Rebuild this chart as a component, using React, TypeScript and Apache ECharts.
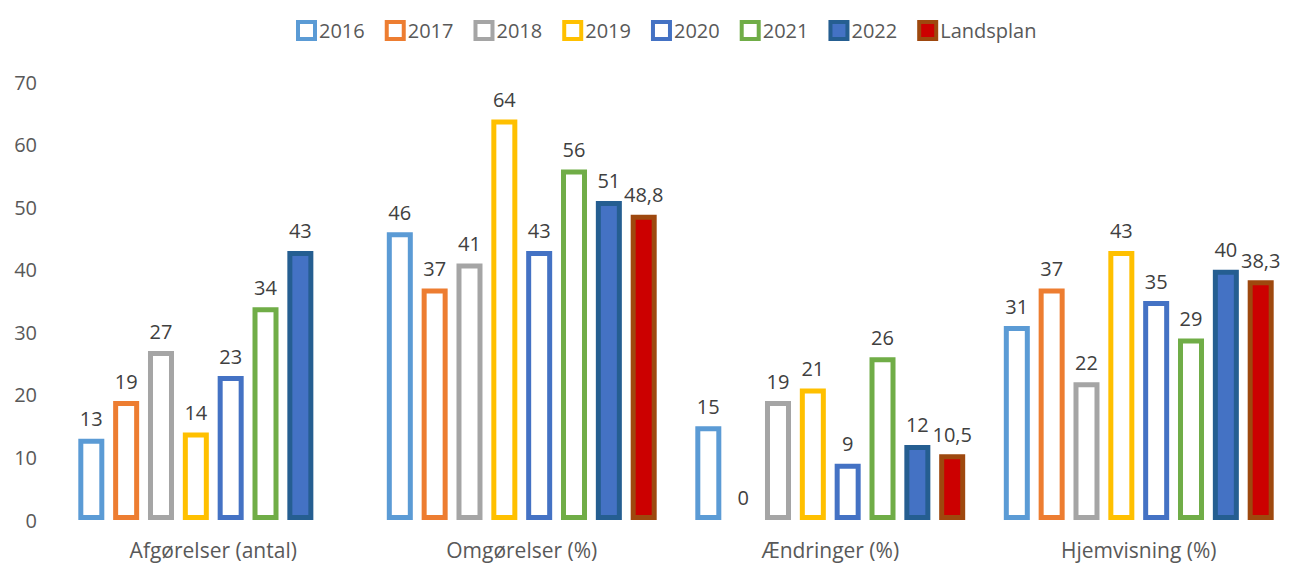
import React, { useEffect, useRef } from "react";
import * as echarts from "echarts";

const categories = ["Afgørelser (antal)", "Omgørelser (%)", "Ændringer (%)", "Hjemvisning (%)"];
const seriesNames = ["2016", "2017", "2018", "2019", "2020", "2021", "2022", "Landsplan"];
const v2016 = [13, 46, 15, 31];
const v2017 = [19, 37, 0, 37];
const v2018 = [27, 41, 19, 22];
const v2019 = [14, 64, 21, 43];
const v2020 = [23, 43, 9, 35];
const v2021 = [34, 56, 26, 29];
const v2022 = [43, 51, 12, 40];
const vLandsplan = [null, 48.8, 10.5, 38.3];
const yTicks = [0, 10, 20, 30, 40, 50, 60, 70];

const allValues = [v2016, v2017, v2018, v2019, v2020, v2021, v2022, vLandsplan];
const borderColors = ["#5B9BD5", "#ED7D31", "#A5A5A5", "#FFC000", "#4472C4", "#70AD47", "#255E91", "#9E480E"];
const fillColors = ["#FFFFFF", "#FFFFFF", "#FFFFFF", "#FFFFFF", "#FFFFFF", "#FFFFFF", "#4472C4", "#CC0000"];

const FONT = "'Open Sans', Lato, sans-serif";

export default function App() {
  const ref = useRef<HTMLDivElement>(null);
  useEffect(() => {
    if (!ref.current) return;
    const chart = echarts.init(ref.current, undefined, { renderer: "svg" });
    const series = seriesNames.map((name, i) => ({
      name,
      type: "bar",
      barWidth: 26,
      barGap: "34%",
      data: allValues[i].map((v) =>
        v === 0
          ? { value: v, itemStyle: { borderColor: "rgba(0,0,0,0)", color: "rgba(0,0,0,0)" } }
          : v
      ),
      itemStyle: { color: fillColors[i], borderColor: borderColors[i], borderWidth: 5 },
      label: {
        show: true,
        position: "top",
        distance: 10,
        color: "#404040",
        fontSize: 20,
        fontFamily: FONT,
        formatter: (p: any) => (p.value == null ? "" : String(p.value).replace(".", ",")),
      },
    }));
    chart.setOption({
      animation: false,
      textStyle: { fontFamily: FONT },
      legend: {
        top: 15,
        left: 291,
        itemWidth: 17,
        itemHeight: 17,
        itemGap: 20,
        textStyle: { color: "#595959", fontSize: 20, fontFamily: FONT, padding: [0, 0, 0, -1] },
        data: seriesNames.map((name, i) => ({
          name,
          icon: "rect",
          itemStyle: { color: fillColors[i], borderColor: borderColors[i], borderWidth: 4 },
        })),
      },
      grid: { left: 59, top: 82, width: 1247, height: 438 },
      xAxis: {
        type: "category",
        data: categories,
        axisLine: { show: false },
        axisTick: { show: false },
        axisLabel: { color: "#595959", fontSize: 21, fontFamily: FONT, margin: 19 },
      },
      yAxis: {
        type: "value",
        min: yTicks[0],
        max: yTicks[yTicks.length - 1],
        interval: 10,
        splitLine: { show: false },
        axisLine: { show: false },
        axisTick: { show: false },
        axisLabel: { color: "#595959", fontSize: 20, fontFamily: FONT, margin: 22 },
      },
      series,
    });
    return () => chart.dispose();
  }, []);
  return (
    <div
      ref={ref}
      style={{ position: "absolute", left: 0, top: 0, width: 1293, height: 567, background: "#fff" }}
    />
  );
}
